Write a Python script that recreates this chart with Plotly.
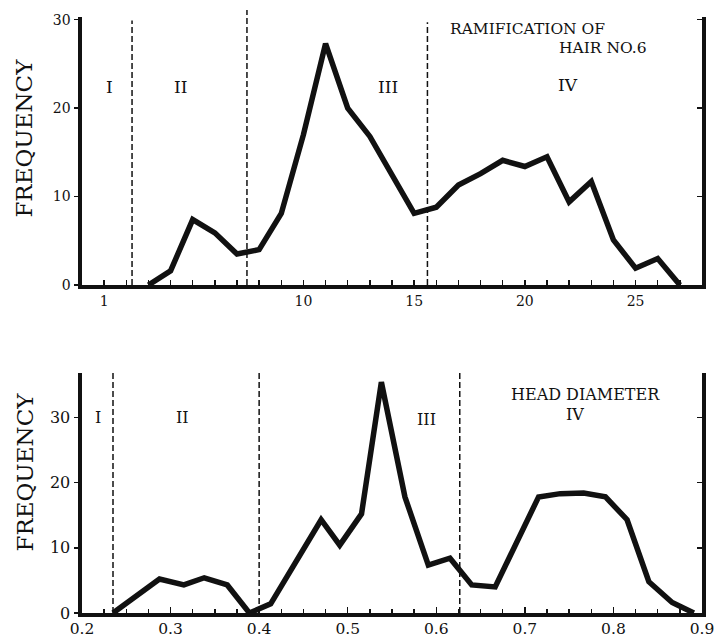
import plotly.graph_objects as go

# ---- Top panel: ramification of hair No. 6 ----
ram_x = list(range(3, 28))
ram_freq = [0, 1.6, 7.4, 5.9, 3.5, 4.0, 8.1, 17.0, 27.3, 20.0, 16.8, 12.5, 8.1,
            8.8, 11.3, 12.6, 14.1, 13.4, 14.5, 9.4, 11.7, 5.1, 1.9, 3.0, 0]
ram_bounds = [2.26, 7.45, 15.6]
ram_bound_tops = [29.9, 31.1, 29.7]
ram_tickvals = list(range(1, 28))
ram_ticklabels = {1: "1", 10: "10", 15: "15", 20: "20", 25: "25"}

# ---- Bottom panel: head diameter ----
head_x = [0.235, 0.2875, 0.315, 0.338, 0.364, 0.389, 0.413, 0.440, 0.470, 0.491,
          0.5156, 0.538, 0.5646, 0.591, 0.6155, 0.640, 0.6665, 0.7155, 0.740,
          0.7664, 0.791, 0.8154, 0.840, 0.8663, 0.8908]
head_freq = [0, 5.2, 4.3, 5.4, 4.3, 0, 1.4, 7.6, 14.3, 10.4, 15.2, 35.4, 17.8,
             7.35, 8.4, 4.3, 4.0, 17.8, 18.3, 18.4, 17.8, 14.3, 4.8, 1.6, 0]
head_bounds = [0.235, 0.40, 0.6265]

SERIF = "DejaVu Serif"
INK = "#111111"

fig = go.Figure()
fig.add_trace(go.Scatter(x=ram_x, y=ram_freq, mode="lines", xaxis="x", yaxis="y",
                         line=dict(color=INK, width=5.5), showlegend=False, hoverinfo="skip"))
fig.add_trace(go.Scatter(x=head_x, y=head_freq, mode="lines", xaxis="x2", yaxis="y2",
                         line=dict(color=INK, width=5.5), showlegend=False, hoverinfo="skip"))
# invisible companions so the right-hand axes get drawn
fig.add_trace(go.Scatter(x=ram_x, y=ram_freq, xaxis="x", yaxis="y3", mode="markers",
                         marker=dict(opacity=0), showlegend=False, hoverinfo="skip"))
fig.add_trace(go.Scatter(x=head_x, y=head_freq, xaxis="x2", yaxis="y4", mode="markers",
                         marker=dict(opacity=0), showlegend=False, hoverinfo="skip"))

base = dict(showgrid=False, zeroline=False, showline=True, linecolor=INK,
            tickcolor=INK, automargin=False)

top_dom = [0.5503, 1.0]
bot_dom = [0.0, 0.4027]

fig.update_layout(
    width=714, height=638,
    margin=dict(l=82, r=12, t=17, b=25),
    paper_bgcolor="white", plot_bgcolor="white",
    xaxis=dict(domain=[0, 1], anchor="y", range=[0, 28],
               tickvals=ram_tickvals,
               ticktext=[ram_ticklabels.get(v, "") for v in ram_tickvals],
               ticks="inside", ticklen=5, tickwidth=1.5, linewidth=4,
               ticklabeloverflow="allow",
               tickfont=dict(family=SERIF, size=14, color=INK), **base),
    yaxis=dict(domain=top_dom, anchor="x", range=[0, 30.3],
               tickvals=[0, 10, 20, 30], ticks="outside", ticklen=4, tickwidth=1.5,
               linewidth=4.5, tickfont=dict(family=SERIF, size=14, color=INK), **base),
    yaxis3=dict(domain=top_dom, anchor="x", overlaying="y", side="right",
                range=[0, 30.3], tickvals=[0, 10, 20, 30], ticks="inside", ticklen=5,
                tickwidth=1.5, showticklabels=False, linewidth=3.5, **base),
    xaxis2=dict(domain=[0, 1], anchor="y2", range=[0.2, 0.9],
                tickvals=[0.2, 0.3, 0.4, 0.5, 0.6, 0.7, 0.8, 0.9],
                ticktext=["0.2", "0.3", "0.4", "0.5", "0.6", "0.7", "0.8", "0.9"],
                ticks="inside", ticklen=6, tickwidth=1.5, linewidth=4,
                ticklabeloverflow="allow", ticklabelstandoff=-2,
                minor=dict(dtick=0.025, tick0=0.2, ticks="inside", ticklen=4,
                           tickwidth=1.5, tickcolor=INK),
                tickfont=dict(family=SERIF, size=15.5, color=INK), **base),
    yaxis2=dict(domain=bot_dom, anchor="x2", range=[0, 36.8],
                tickvals=[0, 10, 20, 30], ticks="outside", ticklen=4, tickwidth=1.5,
                linewidth=4.5, tickfont=dict(family=SERIF, size=16, color=INK), **base),
    yaxis4=dict(domain=bot_dom, anchor="x2", overlaying="y2", side="right",
                range=[0, 36.8], tickvals=[0, 10, 20, 30], ticks="inside", ticklen=5,
                tickwidth=1.5, showticklabels=False, linewidth=3.5, **base),
)

# dashed region boundaries
for xv, top in zip(ram_bounds, ram_bound_tops):
    fig.add_shape(type="line", xref="x", yref="y domain", x0=xv, x1=xv,
                  y0=0, y1=top / 30.3, line=dict(color=INK, width=1.5, dash="6px,3px"))
for xv in head_bounds:
    fig.add_shape(type="line", xref="x2", yref="y2 domain", x0=xv, x1=xv,
                  y0=0, y1=1, line=dict(color=INK, width=1.5, dash="6px,3px"))

def ann(text, x, y, xref, yref, size, xanchor="center", angle=0):
    fig.add_annotation(text=text, x=x, y=y, xref=xref, yref=yref, showarrow=False,
                       xanchor=xanchor, yanchor="middle", textangle=angle,
                       font=dict(family=SERIF, size=size, color=INK))

# top panel labels
ann("I", 1.22, 22.4, "x", "y", 17)
ann("II", 4.47, 22.4, "x", "y", 17)
ann("III", 13.8, 22.4, "x", "y", 17)
ann("IV", 21.97, 22.6, "x", "y", 17)
ann("RAMIFICATION OF", 20.1, 29.0, "x", "y", 15.5)
ann("HAIR NO.6", 25.6, 26.8, "x", "y", 15.5, xanchor="right")

# bottom panel labels
ann("I", 0.218, 30.0, "x2", "y2", 16)
ann("II", 0.314, 30.0, "x2", "y2", 16)
ann("III", 0.589, 29.7, "x2", "y2", 16)
ann("IV", 0.7566, 30.5, "x2", "y2", 16)
ann("HEAD DIAMETER", 0.768, 33.5, "x2", "y2", 16)

# y titles
ann("FREQUENCY", -0.0935, 0.796, "paper", "paper", 23, angle=-90)
ann("FREQUENCY", -0.0935, 0.2357, "paper", "paper", 23, angle=-90)

fig.write_html(
    "out.html",
    config={"displayModeBar": False, "staticPlot": True},
    post_script="document.body.style.margin='0px';document.body.style.padding='0px';"
                "document.documentElement.style.overflow='hidden';",
)
